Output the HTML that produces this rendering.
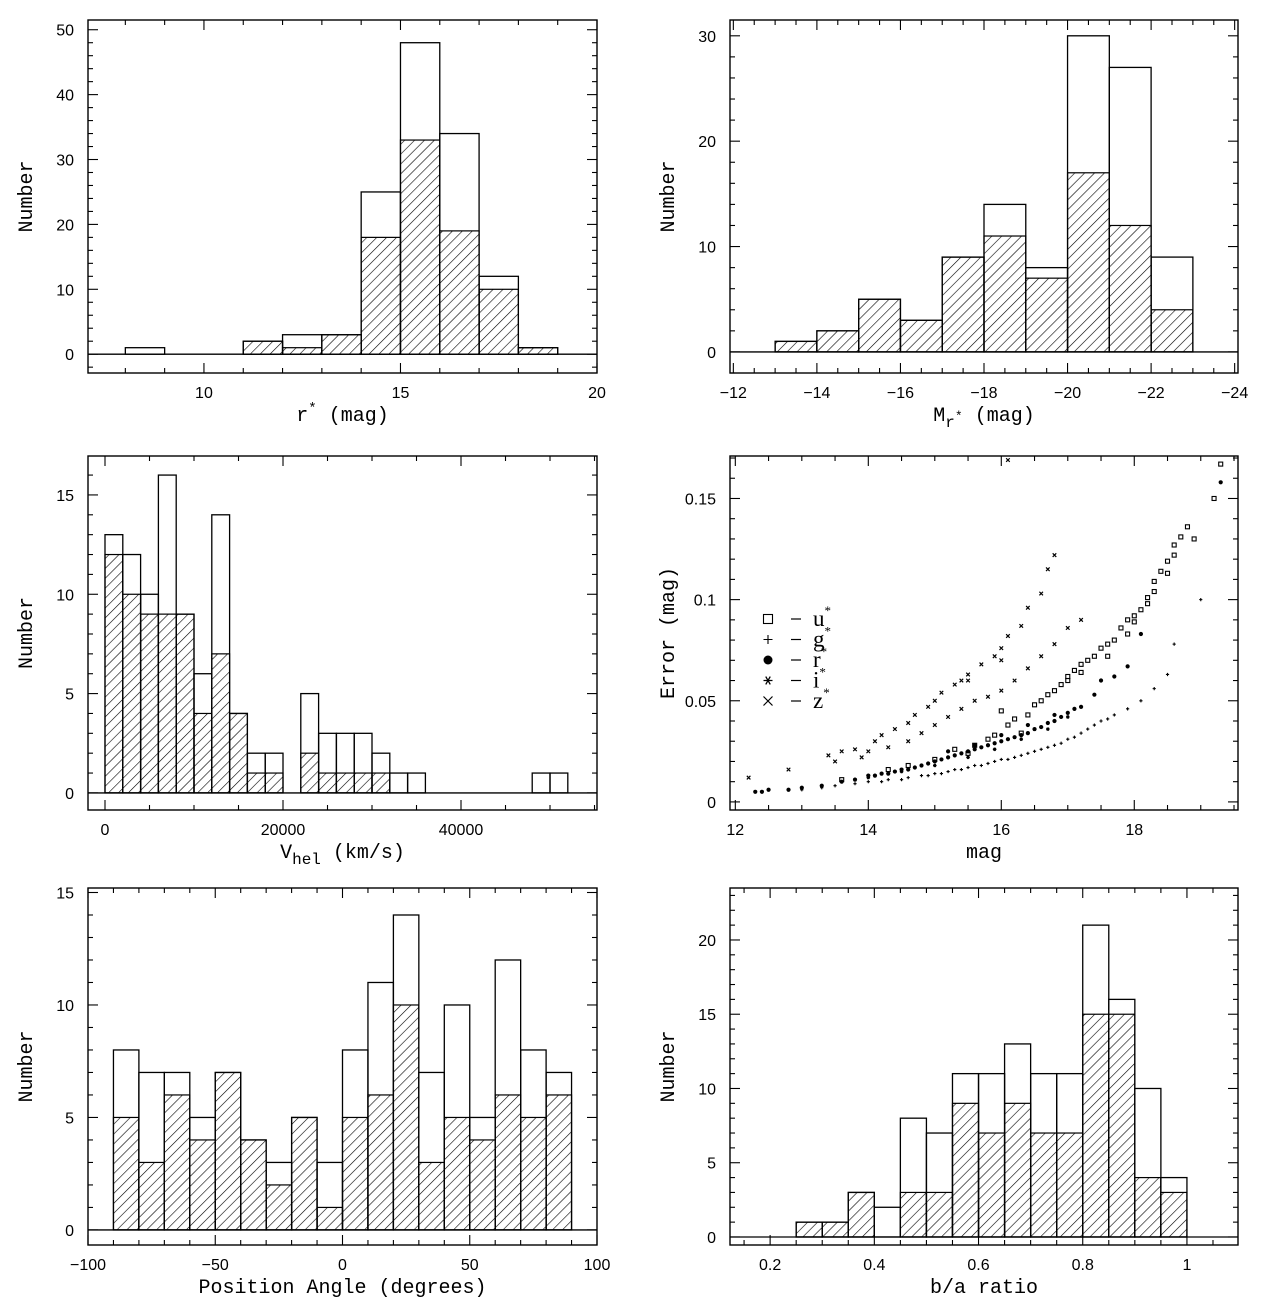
<!DOCTYPE html>
<html><head><meta charset="utf-8"><style>
html,body{margin:0;padding:0;background:#fff;}
svg{display:block;}
.tk{font-family:"Liberation Sans",sans-serif;font-size:16px;fill:#000;}
.tt{font-family:"Liberation Mono",monospace;font-size:20px;fill:#000;}
.lg{font-family:"Liberation Serif",serif;font-size:23px;fill:#000;}
</style></head><body>
<svg id="fig" width="1267" height="1314" viewBox="0 0 1267 1314" xmlns="http://www.w3.org/2000/svg">
<defs>
<pattern id="hatch" patternUnits="userSpaceOnUse" width="7" height="7" patternTransform="rotate(45)">
<line x1="0" y1="0" x2="0" y2="7" stroke="#000" stroke-width="1.2"/>
</pattern>
</defs>
</svg>
<script>
// ---- Panel 1: r* apparent magnitude ----
const p1Edges=[8,9,10,11,12,13,14,15,16,17,18,19];
const p1Total=[1,0,0,2,3,3,25,48,34,12,1];
const p1Hatch=[0,0,0,2,1,3,18,33,19,10,1];
const p1XTicks=[10,15,20];
const p1YTicks=[0,10,20,30,40,50];
// ---- Panel 2: absolute magnitude ----
const p2Edges=[-13,-14,-15,-16,-17,-18,-19,-20,-21,-22,-23];
const p2Total=[1,2,5,3,9,14,8,30,27,9];
const p2Hatch=[1,2,5,3,9,11,7,17,12,4];
const p2XTicks=[-12,-14,-16,-18,-20,-22,-24];
const p2YTicks=[0,10,20,30];
// ---- Panel 3: heliocentric velocity ----
const p3Edges=[0,2000,4000,6000,8000,10000,12000,14000,16000,18000,20000,22000,24000,26000,28000,30000,32000,34000,36000,38000,40000,42000,44000,46000,48000,50000,52000];
const p3Total=[13,12,10,16,9,6,14,4,2,2,0,5,3,3,3,2,1,1,0,0,0,0,0,0,1,1];
const p3Hatch=[12,10,9,9,9,4,7,4,1,1,0,2,1,1,1,1,0,0,0,0,0,0,0,0,0,0];
const p3XTicks=[0,20000,40000];
const p3YTicks=[0,5,10,15];
// ---- Panel 4: errors vs magnitude ----
const uX=[13.6,14.3,14.6,15.0,15.3,15.6,15.8,15.9,16.1,16.2,16.4,16.5,16.6,16.7,16.8,16.9,17.0,17.0,17.1,17.2,17.2,17.3,17.4,17.5,17.6,17.6,17.7,17.8,17.9,17.9,18.0,18.0,18.1,18.2,18.2,18.3,18.3,18.4,18.5,18.5,18.6,18.6,18.7,18.8,18.9,19.2,19.3,16.0,16.3,15.5];
const uY=[0.011,0.016,0.018,0.021,0.026,0.028,0.031,0.033,0.038,0.041,0.043,0.048,0.05,0.053,0.055,0.058,0.062,0.06,0.065,0.068,0.064,0.07,0.072,0.076,0.078,0.072,0.08,0.086,0.083,0.09,0.092,0.089,0.095,0.098,0.101,0.104,0.109,0.114,0.119,0.113,0.122,0.127,0.131,0.136,0.13,0.15,0.167,0.045,0.034,0.024];
const gX=[13.0,13.3,13.5,13.8,14.0,14.2,14.3,14.5,14.6,14.8,14.9,15.0,15.1,15.2,15.3,15.4,15.5,15.6,15.7,15.8,15.9,16.0,16.1,16.2,16.3,16.4,16.5,16.6,16.7,16.8,16.9,17.0,17.1,17.2,17.3,17.4,17.5,17.6,17.7,17.9,18.1,18.3,18.5,18.6,19.0];
const gY=[0.006,0.007,0.008,0.009,0.01,0.01,0.011,0.011,0.012,0.013,0.013,0.014,0.014,0.015,0.016,0.016,0.017,0.018,0.018,0.019,0.02,0.021,0.021,0.022,0.023,0.024,0.025,0.026,0.027,0.028,0.029,0.031,0.032,0.034,0.036,0.038,0.04,0.041,0.043,0.046,0.05,0.056,0.063,0.078,0.1];
const rX=[12.3,12.4,12.5,12.8,13.0,13.3,13.6,13.8,14.0,14.1,14.2,14.3,14.4,14.5,14.6,14.7,14.8,14.9,15.0,15.1,15.2,15.3,15.4,15.5,15.6,15.7,15.8,15.9,16.0,16.1,16.2,16.3,16.4,16.5,16.6,16.7,16.8,16.9,17.0,17.1,17.2,17.4,17.5,17.7,17.9,18.1,19.3,15.2,15.6,16.0,16.4,16.8];
const rY=[0.005,0.005,0.006,0.006,0.007,0.008,0.01,0.011,0.013,0.013,0.014,0.014,0.015,0.016,0.016,0.017,0.018,0.019,0.02,0.021,0.022,0.023,0.024,0.025,0.026,0.027,0.028,0.029,0.03,0.031,0.032,0.033,0.034,0.036,0.037,0.039,0.04,0.042,0.044,0.046,0.047,0.053,0.06,0.062,0.067,0.083,0.158,0.025,0.028,0.033,0.038,0.043];
const iX=[14.0,14.5,15.0,15.5,15.9,16.3,16.7,17.0];
const iY=[0.012,0.015,0.018,0.022,0.026,0.031,0.036,0.042];
const zX=[12.2,12.8,13.4,13.6,13.8,14.1,14.2,14.4,14.6,14.7,14.9,15.0,15.1,15.3,15.4,15.5,15.7,15.9,16.0,16.1,16.3,16.4,16.6,16.7,16.8,16.1,13.5,13.9,14.0,14.3,14.6,14.8,15.0,15.2,15.4,15.6,15.8,16.0,16.2,16.4,16.6,16.8,17.0,17.2,15.5,16.0];
const zY=[0.012,0.016,0.023,0.025,0.026,0.03,0.033,0.036,0.039,0.043,0.047,0.05,0.054,0.058,0.06,0.063,0.068,0.072,0.076,0.082,0.087,0.096,0.103,0.115,0.122,0.169,0.02,0.022,0.025,0.027,0.03,0.034,0.038,0.042,0.046,0.05,0.052,0.055,0.06,0.066,0.072,0.078,0.086,0.09,0.06,0.07];
const p4XTicks=[12,14,16,18];
const p4YTicks=[0,0.05,0.1,0.15];
const p4YLabels=["0","0.05","0.1","0.15"];
// ---- Panel 5: position angle ----
const p5Edges=[-90,-80,-70,-60,-50,-40,-30,-20,-10,0,10,20,30,40,50,60,70,80,90];
const p5Total=[8,7,7,5,7,4,3,5,3,8,11,14,7,10,5,12,8,7];
const p5Hatch=[5,3,6,4,7,4,2,5,1,5,6,10,3,5,4,6,5,6];
const p5XTicks=[-100,-50,0,50,100];
const p5YTicks=[0,5,10,15];
// ---- Panel 6: axis ratio ----
const p6Edges=[0.25,0.3,0.35,0.4,0.45,0.5,0.55,0.6,0.65,0.7,0.75,0.8,0.85,0.9,0.95,1.0];
const p6Total=[1,1,3,2,8,7,11,11,13,11,11,21,16,10,4];
const p6Hatch=[1,1,3,0,3,3,9,7,9,7,7,15,15,4,3];
const p6XTicks=[0.2,0.4,0.6,0.8,1];
const p6YTicks=[0,5,10,15,20];

const NS="http://www.w3.org/2000/svg";
const svg=document.getElementById('fig');
function el(tag,attrs,parent){const e=document.createElementNS(NS,tag);for(const k in attrs)e.setAttribute(k,attrs[k]);(parent||svg).appendChild(e);return e;}

function makePanel(cfg){
  const g=el('g',{});
  
  
  const sx=v=>cfg.x0+(v-cfg.xmin)/(cfg.xmax-cfg.xmin)*(cfg.x1-cfg.x0);
  const sy=v=>cfg.y1-(v-cfg.ymin)/(cfg.ymax-cfg.ymin)*(cfg.y1-cfg.y0);
  return {g,sx,sy};
}
function frame(cfg,P){
  const {g,sx,sy}=P;
  const box=el('rect',{x:cfg.x0,y:cfg.y0,width:cfg.x1-cfg.x0,height:cfg.y1-cfg.y0,fill:'none',stroke:'#000','stroke-width':1.4},g);
  
  
  const lo=Math.min(cfg.xmin,cfg.xmax),hi=Math.max(cfg.xmin,cfg.xmax);
  for(let v=Math.ceil(lo/cfg.xminor-1e-9)*cfg.xminor;v<=hi+1e-9;v+=cfg.xminor){
    const x=sx(v),maj=Math.abs(v/cfg.xmajor-Math.round(v/cfg.xmajor))<1e-6,L=maj?10:5;
    el('line',{x1:x,x2:x,y1:cfg.y1,y2:cfg.y1-L,stroke:'#000','stroke-width':1.1},g);
    el('line',{x1:x,x2:x,y1:cfg.y0,y2:cfg.y0+L,stroke:'#000','stroke-width':1.1},g);
  }
  for(let v=Math.ceil(cfg.ymin/cfg.yminor-1e-9)*cfg.yminor;v<=cfg.ymax+1e-9;v+=cfg.yminor){
    const y=sy(v),maj=Math.abs(v/cfg.ymajor-Math.round(v/cfg.ymajor))<1e-6,L=maj?10:5;
    el('line',{x1:cfg.x0,x2:cfg.x0+L,y1:y,y2:y,stroke:'#000','stroke-width':1.1},g);
    el('line',{x1:cfg.x1,x2:cfg.x1-L,y1:y,y2:y,stroke:'#000','stroke-width':1.1},g);
  }
  cfg.xticks.forEach((v,i)=>{
    const t=el('text',{x:sx(v),y:cfg.y1+25,'text-anchor':'middle',class:'tk'},g);
    t.textContent=cfg.xlabels?cfg.xlabels[i]:String(v).replace('-','\u2212');
    
    
  });
  cfg.yticks.forEach((v,i)=>{
    const t=el('text',{x:cfg.x0-14,y:sy(v)+6,'text-anchor':'end',class:'tk'},g);
    t.textContent=cfg.ylabels?cfg.ylabels[i]:String(v);
    
    
  });
  const yt=el('text',{x:0,y:0,'text-anchor':'middle',class:'tt',transform:`translate(${cfg.x0-56},${(cfg.y0+cfg.y1)/2}) rotate(-90)`},g);
  yt.textContent=cfg.ytitle;
  
  
  const xt=el('text',{x:(cfg.x0+cfg.x1)/2,y:cfg.y1+48,'text-anchor':'middle',class:'tt'},g);
  xt.innerHTML=cfg.xtitle;
  
  
}
function hist(cfg,edges,tot,hat){
  const P=makePanel(cfg);const {g,sx,sy}=P;
  for(let i=0;i<tot.length;i++){
    const xa=Math.min(sx(edges[i]),sx(edges[i+1])),w=Math.abs(sx(edges[i+1])-sx(edges[i]));
    if(hat[i]>0){
      const h=el('rect',{x:xa,y:sy(hat[i]),width:w,height:sy(0)-sy(hat[i]),fill:'url(#hatch)',stroke:'#000','stroke-width':1.2},g);
      
      
    }
    if(tot[i]>0){
      const b=el('rect',{x:xa,y:sy(tot[i]),width:w,height:sy(0)-sy(tot[i]),fill:'none',stroke:'#000','stroke-width':1.3},g);
      
      
    }
  }
  const z=el('line',{x1:cfg.x0,x2:cfg.x1,y1:sy(0),y2:sy(0),stroke:'#000','stroke-width':1.3},g);
  
  
  frame(cfg,P);
}
const TL={x0:88,x1:597},TR={x0:730,x1:1238};
hist(Object.assign({name:'r-mag-histogram',y0:20,y1:373,xmin:7.05,xmax:20,ymin:-2.9,ymax:51.5,xmajor:5,xminor:1,ymajor:10,yminor:2,xticks:p1XTicks,yticks:p1YTicks,ytitle:'Number',xtitle:'r<tspan font-size="14" dy="-9">*</tspan><tspan dy="9"> (mag)</tspan>'},TL),p1Edges,p1Total,p1Hatch);
hist(Object.assign({name:'abs-mag-histogram',y0:20,y1:373,xmin:-11.92,xmax:-24.08,ymin:-2,ymax:31.5,xmajor:2,xminor:0.5,ymajor:10,yminor:2,xticks:p2XTicks,yticks:p2YTicks,ytitle:'Number',xtitle:'M<tspan font-size="16" dy="6">r</tspan><tspan font-size="13" dy="-7">*</tspan><tspan dy="1"> (mag)</tspan>'},TR),p2Edges,p2Total,p2Hatch);
hist(Object.assign({name:'velocity-histogram',y0:456,y1:810,xmin:-1910,xmax:55280,ymin:-0.86,ymax:16.96,xmajor:20000,xminor:5000,ymajor:5,yminor:1,xticks:p3XTicks,yticks:p3YTicks,ytitle:'Number',xtitle:'V<tspan font-size="16" dy="6">hel</tspan><tspan dy="-6"> (km/s)</tspan>'},TL),p3Edges,p3Total,p3Hatch);
hist(Object.assign({name:'position-angle-histogram',y0:888,y1:1245,xmin:-100,xmax:100,ymin:-0.67,ymax:15.2,xmajor:50,xminor:10,ymajor:5,yminor:1,xticks:p5XTicks,yticks:p5YTicks,ytitle:'Number',xtitle:'Position Angle (degrees)'},TL),p5Edges,p5Total,p5Hatch);
hist(Object.assign({name:'axis-ratio-histogram',y0:888,y1:1245,xmin:0.123,xmax:1.098,ymin:-0.54,ymax:23.5,xmajor:0.2,xminor:0.05,ymajor:5,yminor:1,xticks:p6XTicks,yticks:p6YTicks,ytitle:'Number',xtitle:'b/a ratio'},TR),p6Edges,p6Total,p6Hatch);

(function(){
  const cfg=Object.assign({name:'error-vs-mag-scatter',y0:456,y1:810,xmin:11.92,xmax:19.56,ymin:-0.004,ymax:0.171,xmajor:2,xminor:0.5,ymajor:0.05,yminor:0.01,xticks:p4XTicks,yticks:p4YTicks,ylabels:p4YLabels,ytitle:'Error (mag)',xtitle:'mag'},TR);
  const P=makePanel(cfg);const {g,sx,sy}=P;
  function sym(type,x,y,s,parent){
    if(type==='u')return el('rect',{x:x-s,y:y-s,width:2*s,height:2*s,fill:'none',stroke:'#000','stroke-width':1.1},parent);
    if(type==='g')return el('path',{d:`M${x-s} ${y}H${x+s}M${x} ${y-s}V${y+s}`,stroke:'#000','stroke-width':1.1,fill:'none'},parent);
    if(type==='r')return el('circle',{cx:x,cy:y,r:s,fill:'#000'},parent);
    if(type==='i')return el('path',{d:`M${x-s} ${y}H${x+s}M${x-s/2} ${y-s*0.87}L${x+s/2} ${y+s*0.87}M${x+s/2} ${y-s*0.87}L${x-s/2} ${y+s*0.87}`,stroke:'#000','stroke-width':1.3,fill:'none'},parent);
    return el('path',{d:`M${x-s} ${y-s}L${x+s} ${y+s}M${x+s} ${y-s}L${x-s} ${y+s}`,stroke:'#000','stroke-width':1.2,fill:'none'},parent);
  }
  const sets=[['u',uX,uY,2],['g',gX,gY,1.6],['r',rX,rY,2.1],['i',iX,iY,1.8],['z',zX,zY,1.8]];
  sets.forEach(([t,X,Y,s])=>{
    for(let i=0;i<X.length;i++){
      const m=sym(t,sx(X[i]),sy(Y[i]),s,g);
      
      
    }
  });
  const labels=['u','g','r','i','z'];
  labels.forEach((l,i)=>{
    const y=619+i*20.5;
    const lg=el('g',{},g);
    
    
    sym(l,768,y,4.5,lg);
    el('line',{x1:791,x2:801,y1:y,y2:y,stroke:'#000','stroke-width':1.2},lg);
    const t=el('text',{x:813,y:y+7,class:'lg'},lg);
    t.innerHTML=l+'<tspan font-size="13" dy="-11">*</tspan>';
  });
  frame(cfg,P);
})();
</script>
</body></html>
